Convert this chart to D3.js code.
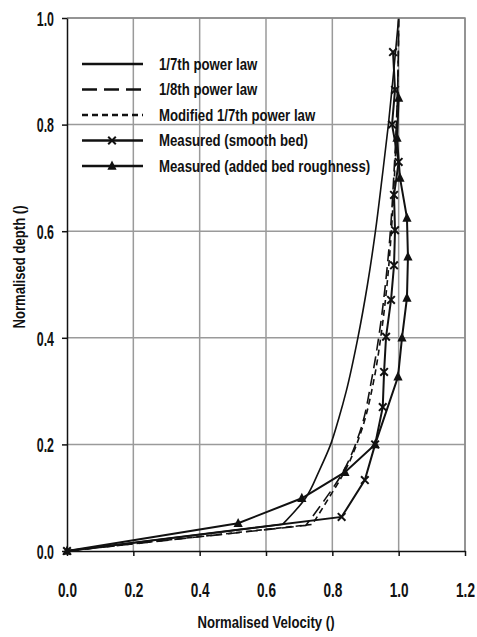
<!DOCTYPE html>
<html><head><meta charset="utf-8">
<script src="https://cdn.jsdelivr.net/npm/d3@7"></script>
<style>html,body{margin:0;padding:0;background:#fff}svg{display:block}</style>
</head><body>
<script>
// ---- data (normalised velocity, normalised depth) ----
const xTicks = [0.0, 0.2, 0.4, 0.6, 0.8, 1.0, 1.2];
const yTicks = [0.0, 0.2, 0.4, 0.6, 0.8, 1.0];
const seriesNames = ["1/7th power law", "1/8th power law", "Modified 1/7th power law", "Measured (smooth bed)", "Measured (added bed roughness)"];
const powerSeventh = [[0,0],[0.65,0.05],[0.72,0.1],[0.76,0.15],[0.795,0.2],[0.82,0.25],[0.842,0.3],[0.877,0.4],[0.906,0.5],[0.93,0.6],[0.95,0.7],[0.969,0.8],[0.985,0.9],[1.0,1.0]];
const powerEighth = [[0,0],[0.72,0.048],[0.77,0.09],[0.83,0.146],[0.885,0.227],[0.918,0.32],[0.942,0.41],[0.96,0.5],[0.975,0.6],[0.985,0.7],[0.993,0.8],[0.998,0.9],[1.0,1.0]];
const modifiedSeventh = [[0,0],[0.74,0.05],[0.785,0.095],[0.838,0.15],[0.89,0.23],[0.925,0.32],[0.948,0.41],[0.965,0.5],[0.978,0.6],[0.987,0.7],[0.994,0.8],[0.998,0.9],[1.0,1.0]];
const measuredSmooth = [[0,0],[0.828,0.064],[0.898,0.133],[0.929,0.2],[0.952,0.27],[0.956,0.336],[0.962,0.402],[0.977,0.471],[0.986,0.536],[0.989,0.602],[0.986,0.668],[1.0,0.73],[0.98,0.8],[0.989,0.865],[0.983,0.936]];
const measuredRough = [[0,0],[0.516,0.052],[0.708,0.099],[0.838,0.148],[0.929,0.2],[0.998,0.327],[1.01,0.40],[1.025,0.475],[1.028,0.552],[1.025,0.625],[1.004,0.70],[0.995,0.775],[1.0,0.85]];

const W = 477, H = 637;
const svg = d3.select("body").append("svg").attr("width", W).attr("height", H);
const x = d3.scaleLinear().domain([0, 1.2]).range([67, 465]);
const y = d3.scaleLinear().domain([0, 1]).range([551, 18]);
const font = "'Liberation Sans', Arial, sans-serif";

// grid
const grid = svg.append("g").attr("stroke", "#9a9a9a").attr("stroke-width", 1.5);
xTicks.filter(t => t > 0).forEach(t => grid.append("line").attr("x1", x(t)).attr("x2", x(t)).attr("y1", y(0)).attr("y2", y(1)));
yTicks.filter(t => t > 0).forEach(t => grid.append("line").attr("x1", x(0)).attr("x2", x(1.2)).attr("y1", y(t)).attr("y2", y(t)));

// series: straight segment from the origin, smooth curve above the first reading
const lineSmooth = d3.line().x(d => x(d[0])).y(d => y(d[1])).curve(d3.curveMonotoneY);
const lineStraight = d3.line().x(d => x(d[0])).y(d => y(d[1]));
const curveFromOrigin = data => `M${x(data[0][0])},${y(data[0][1])}` + lineSmooth(data.slice(1)).replace(/^M/, "L");
const series = [
  {data: powerSeventh, gen: curveFromOrigin, dash: null, w: 1.6, marker: null},
  {data: powerEighth, gen: curveFromOrigin, dash: "12,6", w: 1.6, marker: null},
  {data: modifiedSeventh, gen: curveFromOrigin, dash: "6,4", w: 1.6, marker: null},
  {data: measuredSmooth, gen: lineStraight, dash: null, w: 2, marker: "x"},
  {data: measuredRough, gen: lineStraight, dash: null, w: 2, marker: "tri"}
];
const plot = svg.append("g");
series.forEach(s => {
  plot.append("path").attr("d", s.gen(s.data)).attr("fill", "none").attr("stroke", "#111")
    .attr("stroke-width", s.w).attr("stroke-dasharray", s.dash);
});
function drawMarker(g, type, cx, cy) {
  if (type === "x") {
    const r = 3.8;
    g.append("path").attr("d", `M${cx-r},${cy-r}L${cx+r},${cy+r}M${cx-r},${cy+r}L${cx+r},${cy-r}`)
      .attr("stroke", "#111").attr("stroke-width", 2).attr("fill", "none");
  } else if (type === "tri") {
    const r = 4.6;
    g.append("path").attr("d", `M${cx},${cy-r-0.8}L${cx+r},${cy+r-0.8}L${cx-r},${cy+r-0.8}Z`).attr("fill", "#111");
  }
}
series.forEach(s => {
  if (s.marker) s.data.forEach(d => drawMarker(plot, s.marker, x(d[0]), y(d[1])));
});

// border (top/right)
svg.append("path").attr("d", `M${x(0)},${y(1)}H${x(1.2)}V${y(0)}`).attr("fill", "none").attr("stroke", "#8a8a8a").attr("stroke-width", 1.5);

// axes
const xAxis = svg.append("g").attr("transform", `translate(0,${y(0)})`)
  .call(d3.axisBottom(x).tickValues(xTicks).tickFormat(d3.format(".1f")).tickSize(5).tickSizeOuter(0));
const yAxis = svg.append("g").attr("transform", `translate(${x(0)},0)`)
  .call(d3.axisLeft(y).tickValues(yTicks).tickFormat(d3.format(".1f")).tickSize(5).tickSizeOuter(0));
[xAxis, yAxis].forEach(a => {
  a.select(".domain").attr("stroke", "#111").attr("stroke-width", 1.5);
  a.selectAll(".tick line").attr("stroke", "#111").attr("stroke-width", 1.5);
  a.selectAll(".tick text").attr("fill", "#111").style("font-family", font).style("font-weight", "bold").style("font-size", "20px");
});
// condensed look: scale glyphs horizontally about each tick's origin
xAxis.selectAll(".tick text").attr("x", 0).attr("y", 46).attr("dy", 0).attr("transform", "scale(0.68,1)");
yAxis.selectAll(".tick text").attr("x", -13 / 0.62).attr("dy", "0.36em").attr("transform", "scale(0.62,1)");

// axis titles
svg.append("text").attr("transform", "translate(266,628) scale(0.82,1)").attr("text-anchor", "middle")
  .style("font-family", font).style("font-weight", "bold").style("font-size", "16px").attr("fill", "#111")
  .text("Normalised Velocity ()");
svg.append("text").attr("transform", "translate(25,267) rotate(-90) scale(0.82,1)").attr("text-anchor", "middle")
  .style("font-family", font).style("font-weight", "bold").style("font-size", "16px").attr("fill", "#111")
  .text("Normalised depth ()");

// legend
const legendY = [64, 89.5, 115, 140.5, 166];
const leg = svg.append("g");
series.forEach((s, i) => {
  const ly = legendY[i];
  leg.append("line").attr("x1", 82).attr("x2", 143).attr("y1", ly).attr("y2", ly)
    .attr("stroke", "#111").attr("stroke-width", 2.5).attr("stroke-dasharray", i === 1 ? "15,7" : (i === 2 ? "6,4" : null));
  if (s.marker) drawMarker(leg, s.marker, 112, ly);
  leg.append("text").attr("transform", `translate(159,${ly + 5.5}) scale(0.8,1)`)
    .style("font-family", font).style("font-weight", "bold").style("font-size", "16.5px").attr("fill", "#111")
    .text(seriesNames[i]);
});
</script>
</body></html>
